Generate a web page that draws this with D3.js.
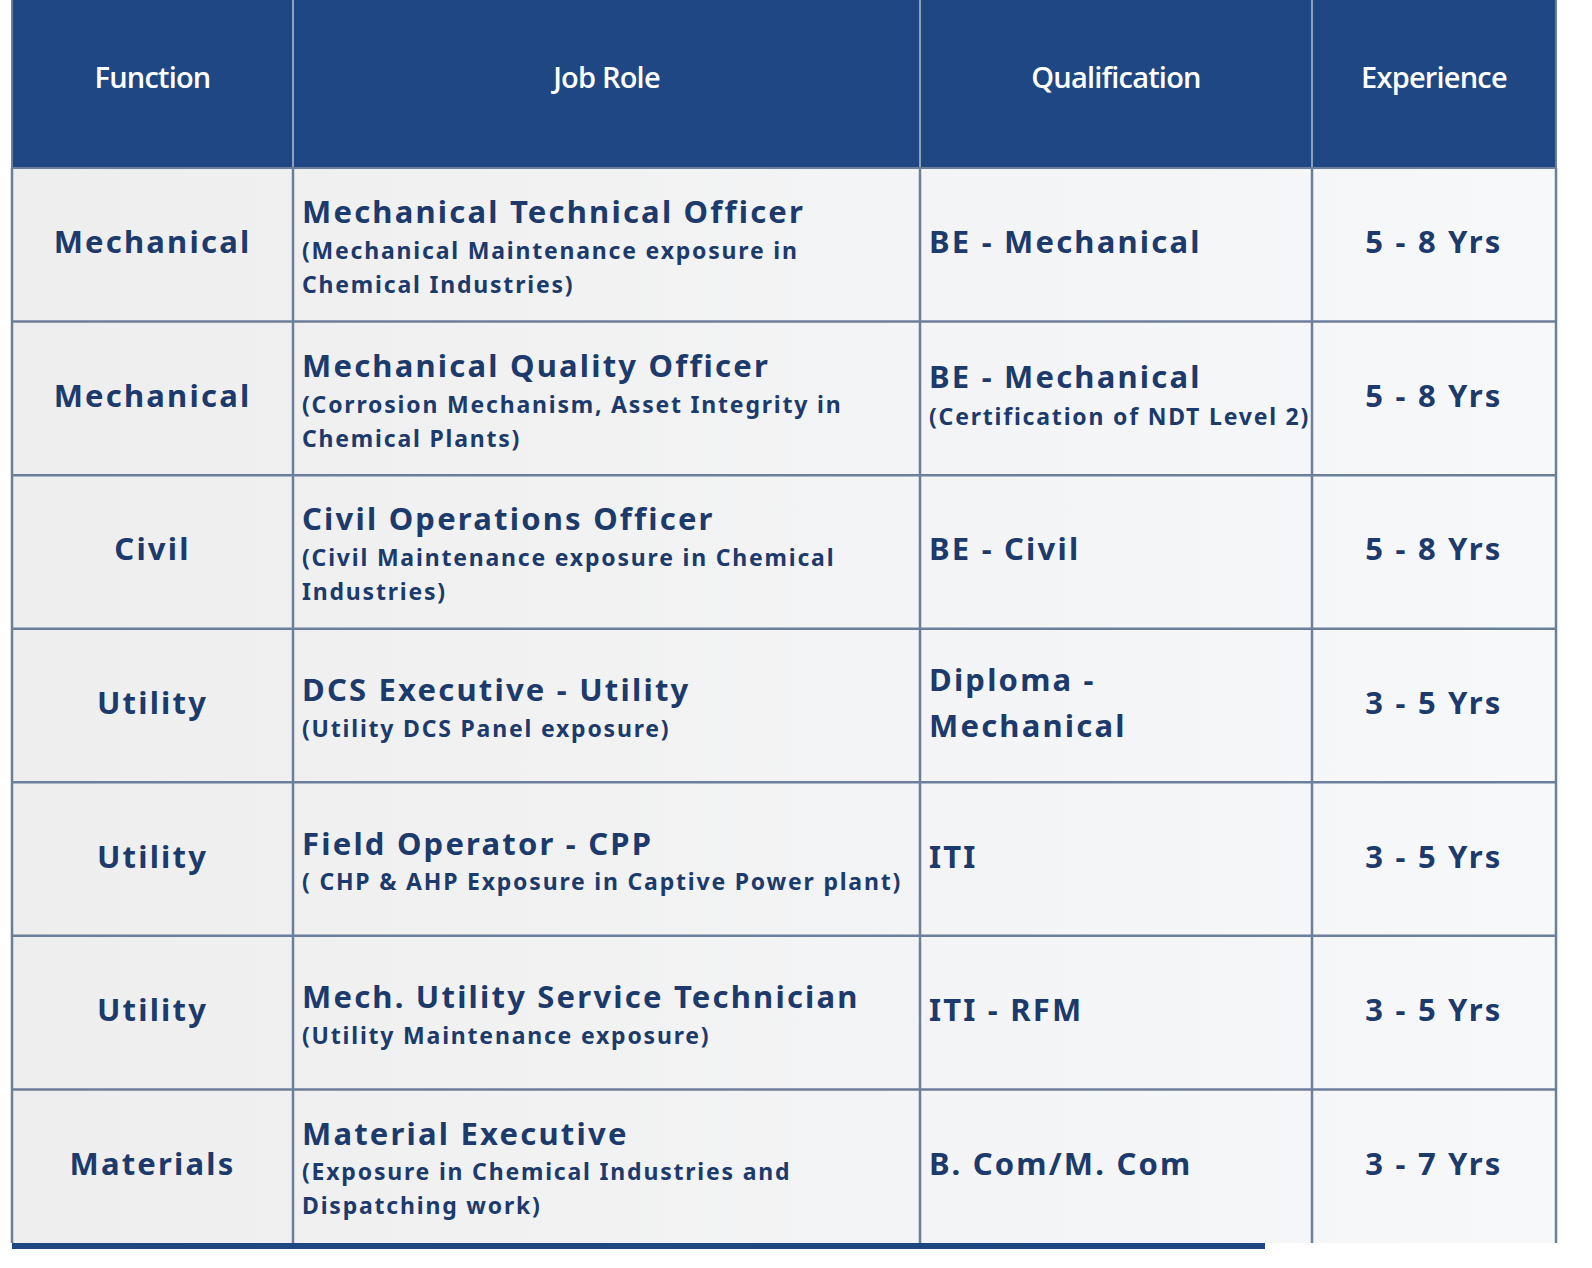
<!doctype html>
<html>
<head>
<meta charset="UTF-8">
<script src="https://cdn.jsdelivr.net/npm/d3@7/dist/d3.min.js"></script>
<style>
  body { margin: 0; background: #fff; }
  svg { display: block; }
</style>
</head>
<body>
<svg id="chart" width="1592" height="1268"></svg>
<script>
// table contents
const headers = ["Function", "Job Role", "Qualification", "Experience"];
const functions = ["Mechanical", "Mechanical", "Civil", "Utility", "Utility", "Utility", "Materials"];
const roles = [
  "Mechanical Technical Officer",
  "Mechanical Quality Officer",
  "Civil Operations Officer",
  "DCS Executive - Utility",
  "Field Operator - CPP",
  "Mech. Utility Service Technician",
  "Material Executive"
];
const roleNotes = [
  ["(Mechanical Maintenance exposure in", "Chemical Industries)"],
  ["(Corrosion  Mechanism, Asset Integrity in", "Chemical Plants)"],
  ["(Civil Maintenance exposure in Chemical", "Industries)"],
  ["(Utility DCS Panel exposure)"],
  ["( CHP & AHP Exposure in Captive Power plant)"],
  ["(Utility Maintenance exposure)"],
  ["(Exposure in Chemical Industries and", "Dispatching work)"]
];
const quals = [
  ["BE - Mechanical"],
  ["BE - Mechanical"],
  ["BE - Civil"],
  ["Diploma -", "Mechanical"],
  ["ITI"],
  ["ITI - RFM"],
  ["B. Com/M. Com"]
];
const qualNotes = [[], ["(Certification of NDT Level 2)"], [], [], [], [], []];
const experience = ["5 - 8 Yrs", "5 - 8 Yrs", "5 - 8 Yrs", "3 - 5 Yrs", "3 - 5 Yrs", "3 - 5 Yrs", "3 - 7 Yrs"];

// layout
const colEdges = [12, 293, 920, 1312, 1556];
const headTop = 0, headBottom = 168, tableBottom = 1243;
const navy = "#1f4784", ink = "#1c3a6b", grid = "#6b7f9c";
const bodyFont = "'Noto Sans', 'DejaVu Sans', sans-serif";
const bigLS = 2.2, smallLS = 1.8;

const svg = d3.select("#chart");
const defs = svg.append("defs");
const grad = defs.append("linearGradient").attr("id", "cellg").attr("x1", 0).attr("x2", 1).attr("y1", 0).attr("y2", 0);
grad.append("stop").attr("offset", "0%").attr("stop-color", "#eeeeee");
grad.append("stop").attr("offset", "100%").attr("stop-color", "#f7f8fa");

const y = d3.scaleBand().domain(d3.range(functions.length)).range([headBottom, tableBottom]);
const col = i => colEdges[i];
const colW = i => colEdges[i + 1] - colEdges[i];

// header
svg.append("rect").attr("x", colEdges[0]).attr("y", headTop)
  .attr("width", colEdges[4] - colEdges[0]).attr("height", headBottom - headTop).attr("fill", navy);
svg.selectAll("text.head").data(headers).join("text")
  .attr("class", "head")
  .attr("x", (d, i) => col(i) + colW(i) / 2)
  .attr("y", (headTop + headBottom) / 2 - 4)
  .attr("text-anchor", "middle").attr("dominant-baseline", "middle")
  .attr("fill", "#fff").attr("font-family", "'Open Sans', sans-serif")
  .attr("font-size", 29).attr("font-weight", 600).attr("letter-spacing", -0.8)
  .text(d => d);

// body background
const rows = svg.selectAll("g.row").data(functions).join("g").attr("class", "row")
  .attr("transform", (d, i) => `translate(0,${y(i)})`);
rows.append("rect").attr("x", colEdges[0]).attr("width", colEdges[4] - colEdges[0])
  .attr("height", y.bandwidth()).attr("fill", "url(#cellg)");

const h = y.bandwidth();
const big = 31, small = 23;

// function column
rows.append("text")
  .attr("x", col(0) + colW(0) / 2).attr("y", h / 2)
  .attr("text-anchor", "middle").attr("dominant-baseline", "middle")
  .attr("fill", ink).attr("font-family", bodyFont).attr("font-weight", 700)
  .attr("font-size", big).attr("letter-spacing", bigLS).text(d => d);

// job role and qualification columns
rows.each(function (d, i) {
  const g = d3.select(this);
  const notes = roleNotes[i];
  const blockH = 40 + notes.length * 34;
  let top = h / 2 - blockH / 2 + 4;
  g.append("text").attr("x", col(1) + 9).attr("y", top + 20)
    .attr("dominant-baseline", "middle").attr("fill", ink)
    .attr("font-family", bodyFont).attr("font-weight", 700).attr("font-size", big)
    .attr("letter-spacing", bigLS).text(roles[i]);
  notes.forEach((n, k) => {
    g.append("text").attr("x", col(1) + 9).attr("y", top + 42 + 20 + k * 34 - 4)
      .attr("dominant-baseline", "middle").attr("fill", ink)
      .attr("font-family", bodyFont).attr("font-weight", 700).attr("font-size", small)
      .attr("letter-spacing", smallLS).text(n);
  });

  const q = quals[i], qn = qualNotes[i];
  const qH = q.length * 46 + qn.length * 38;
  let qt = h / 2 - qH / 2;
  q.forEach((t, k) => {
    g.append("text").attr("x", col(2) + 9).attr("y", qt + 23 + k * 46)
      .attr("dominant-baseline", "middle").attr("fill", ink)
      .attr("font-family", bodyFont).attr("font-weight", 700).attr("font-size", big)
      .attr("letter-spacing", bigLS).text(t);
  });
  qn.forEach((t, k) => {
    g.append("text").attr("x", col(2) + 9).attr("y", qt + q.length * 46 + 16 + k * 34)
      .attr("dominant-baseline", "middle").attr("fill", ink)
      .attr("font-family", bodyFont).attr("font-weight", 700).attr("font-size", small)
      .attr("letter-spacing", smallLS).text(t);
  });
});

// experience
rows.append("text")
  .attr("x", col(3) + colW(3) / 2).attr("y", h / 2)
  .attr("text-anchor", "middle").attr("dominant-baseline", "middle")
  .attr("fill", ink).attr("font-family", bodyFont).attr("font-weight", 700)
  .attr("font-size", big).attr("letter-spacing", bigLS).text((d, i) => experience[i]);

// grid lines
svg.selectAll("line.h").data(d3.range(1, functions.length)).join("line")
  .attr("x1", colEdges[0]).attr("x2", colEdges[4])
  .attr("y1", i => y(i)).attr("y2", i => y(i))
  .attr("stroke", grid).attr("stroke-width", 2.5);
svg.selectAll("line.v").data(colEdges).join("line")
  .attr("x1", d => d).attr("x2", d => d)
  .attr("y1", headTop).attr("y2", tableBottom)
  .attr("stroke", (d, i) => (i === 0 || i === 4) ? grid : "#8fa0bb").attr("stroke-width", 2);
svg.selectAll("line.vb").data(colEdges).join("line")
  .attr("x1", d => d).attr("x2", d => d)
  .attr("y1", headBottom).attr("y2", tableBottom)
  .attr("stroke", grid).attr("stroke-width", 2.5);
svg.append("line").attr("x1", colEdges[0]).attr("x2", colEdges[4])
  .attr("y1", headBottom).attr("y2", headBottom).attr("stroke", grid).attr("stroke-width", 2);
// bottom band
svg.append("rect").attr("x", colEdges[0]).attr("y", tableBottom)
  .attr("width", 1265 - colEdges[0]).attr("height", 6).attr("fill", navy);
</script>
</body>
</html>
